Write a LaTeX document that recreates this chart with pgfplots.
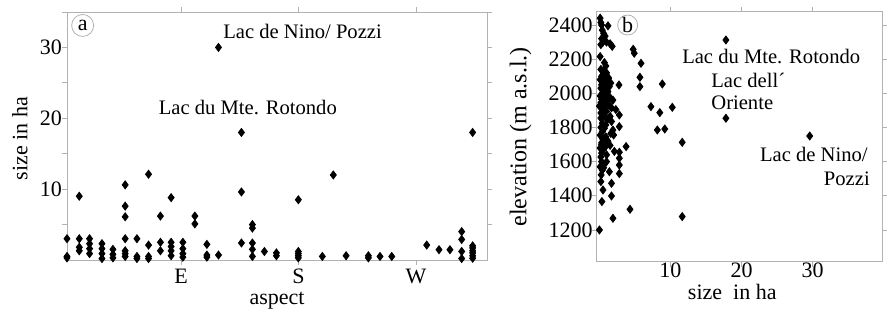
\documentclass[border=0pt]{standalone}
\usepackage{fontspec}
\setmainfont{Liberation Serif}
\usepackage{pgfplots}
\pgfplotsset{compat=1.18}
\pgfplotstableread{
x y
2.5 3.0
2.5 0.5
2.5 0.3
11.9 9.0
11.9 3.0
11.9 1.8
11.9 1.3
19.8 3.0
19.8 2.3
19.8 1.6
19.8 0.9
29.3 2.3
29.3 1.6
29.3 0.9
29.3 0.2
37.7 1.5
37.7 0.8
37.7 0.3
47.1 10.6
47.1 7.6
47.1 6.1
47.1 3.0
47.1 1.3
47.1 0.9
47.1 0.5
56.1 3.0
56.1 0.5
56.1 0.2
65.0 12.1
65.0 2.1
65.0 0.5
65.0 0.2
74.1 6.2
74.1 2.5
74.1 1.3
82.3 8.8
82.3 2.5
82.3 1.9
82.3 1.3
82.3 0.6
91.3 2.5
91.3 1.6
91.3 0.9
91.3 0.4
100.5 6.2
100.5 5.1
109.7 2.2
109.7 0.7
109.7 0.4
118.6 30.0
118.6 0.7
136.2 18.0
136.2 9.6
136.2 2.4
144.6 5.0
144.6 4.5
144.6 2.4
144.6 1.5
144.6 0.5
153.8 1.2
163.0 1.0
163.0 0.6
179.8 8.5
179.8 1.2
179.8 0.9
179.8 0.6
179.8 0.3
198.2 0.5
206.6 12.0
216.4 0.6
233.5 0.6
233.5 0.3
242.4 0.5
251.4 0.5
278.2 2.1
287.6 1.45
296.0 1.45
305.0 4.0
305.0 2.9
305.0 1.2
305.0 0.2
313.4 18.0
313.4 2.0
313.4 1.7
313.4 1.3
313.4 1.0
313.4 0.6
313.4 0.25
}\aspecttable
\pgfplotstableread{
x y
0.1 2440
0.2 2415
1.2 2395
0.3 2400
0.4 2370
0.6 2350
0.8 2335
0.3 2320
0.5 2300
1.0 2300
1.5 2290
1.8 2275
0.2 2285
0.1 2215
0.7 2180
0.9 2160
0.2 2140
0.6 2130
1.0 2120
0.3 2100
0.8 2095
1.3 2090
0.1 2080
0.5 2070
1.1 2065
1.6 2060
0.3 2050
0.9 2045
1.4 2040
0.2 2030
0.7 2020
1.2 2010
0.4 2000
1.0 1995
0.1 1985
0.6 1980
1.5 1975
0.3 1965
0.9 1960
1.9 1960
0.2 1945
0.7 1940
1.3 1935
0.0 1925
0.7 1920
1.7 1915
2.3 1905
0.4 1905
1.0 1895
0.2 1885
2.8 1873
0.6 1870
1.5 1865
0.2 1855
1.1 1845
1.7 1835
0.4 1825
0.9 1815
2.8 1805
0.2 1800
0.7 1795
1.9 1785
0.4 1775
1.6 1765
0.1 1755
0.9 1745
2.0 1756
0.5 1730
1.2 1720
0.3 1710
0.3 1700
0.9 1690
1.5 1695
0.1 1680
0.6 1675
2.1 1660
2.8 1655
0.3 1650
1.0 1640
0.2 1627
2.8 1620
0.3 1600
1.0 1600
0.6 1585
2.8 1580
0.1 1570
0.6 1565
0.4 1550
1.4 1541
2.8 1530
0.25 1522
0.2 1483
1.7 1473
0.5 1434
1.7 1399
0.35 1366
1.9 1268
0.0 1200
2.75 2049
3.75 1688
4.3 1321
4.75 2258
4.9 2235
5.85 2176
5.7 2094
5.7 2039
7.25 1922
8.85 2055
8.5 1887
10.25 1918
8.15 1785
9.2 1791
11.65 1713
11.65 1278
17.8 2312
17.8 1854
29.6 1750
}\elevtable
\begin{document}
\begin{tikzpicture}
\useasboundingbox (0,0) rectangle (445pt,154.5pt);
\pgfplotsset{every axis/.append style={
  scale only axis, clip=false,
  axis line style={gray!60},
  every tick/.style={gray!60},
  tick align=outside,
  major tick length=2.5pt, minor tick length=2.5pt,
  tick label style={font=\fontsize{11}{13}\selectfont},
  label style={font=\fontsize{11}{13}\selectfont},
  /pgf/number format/assume math mode=true,
  /pgf/number format/1000 sep={},
  mark options={solid,fill=black,draw=black},
}}
\begin{axis}[
  at={(33.5pt,24.5pt)}, anchor=south west,
  width=210pt, height=124pt,
  xmin=2.5, xmax=324.4, ymin=0, ymax=35,
  xtick={90,180,270}, xticklabels={E,S,W},
  ytick={10,20,30}, minor ytick={5,15,25,35},
  xticklabel style={yshift=1.5pt},
  yticklabel style={xshift=3.5pt},
  xlabel={aspect},
  xlabel style={at={(axis description cs:0.5,-0.178)},anchor=base},
  ylabel={size in ha},
  ylabel style={at={(axis description cs:-0.112,0.49)},anchor=center},
]
\addplot[only marks, mark=diamond*, mark size=2pt] table[x=x,y=y] {\aspecttable};
\node[circle,draw=gray!60,inner sep=0pt,minimum size=11pt,font=\fontsize{11}{13}\selectfont] at (axis cs:14.5,33.1) {a};
\node[anchor=base west,inner sep=0pt,font=\fontsize{10.3}{12}\selectfont] at (axis cs:122,31.2) {Lac de Nino/ Pozzi};
\node[anchor=base west,inner sep=0pt,font=\fontsize{10.3}{12}\selectfont] at (axis cs:72.6,20.6) {Lac du Mte. Rotondo};
\end{axis}
\begin{axis}[
  at={(298.3pt,23.65pt)}, anchor=south west,
  width=142.8pt, height=125pt,
  xmin=-0.4, xmax=39.8, ymin=1014, ymax=2478,
  xtick={10,20,30},
  ytick={1200,1400,1600,1800,2000,2200,2400},
  yticklabel style={xshift=4pt},
  xticklabel style={yshift=5.5pt},
  xlabel={size\ \ in ha},
  xlabel style={at={(axis description cs:0.475,-0.15)},anchor=base},
  ylabel={elevation (m a.s.l.)},
  ylabel style={font=\fontsize{12}{14}\selectfont,at={(axis description cs:-0.266,0.5)},anchor=center},
]
\addplot[only marks, mark=diamond*, mark size=2pt] table[x=x,y=y] {\elevtable};
\node[circle,draw=gray!60,inner sep=0pt,minimum size=10pt,font=\fontsize{11}{13}\selectfont] at (axis cs:3.97,2400) {b};
\node[anchor=base west,inner sep=0pt,font=\fontsize{10.3}{12}\selectfont] at (axis cs:11.6,2176) {Lac du Mte. Rotondo};
\node[anchor=base west,inner sep=0pt,font=\fontsize{10.3}{12}\selectfont] at (axis cs:15.7,2035) {Lac dell´};
\node[anchor=base west,inner sep=0pt,font=\fontsize{10.3}{12}\selectfont] at (axis cs:15.7,1903) {Oriente};
\node[anchor=base east,inner sep=0pt,font=\fontsize{10.3}{12}\selectfont] at (axis cs:37.8,1600) {Lac de Nino/};
\node[anchor=base east,inner sep=0pt,font=\fontsize{10.3}{12}\selectfont] at (axis cs:38.1,1463) {Pozzi};
\end{axis}
\end{tikzpicture}
\end{document}
